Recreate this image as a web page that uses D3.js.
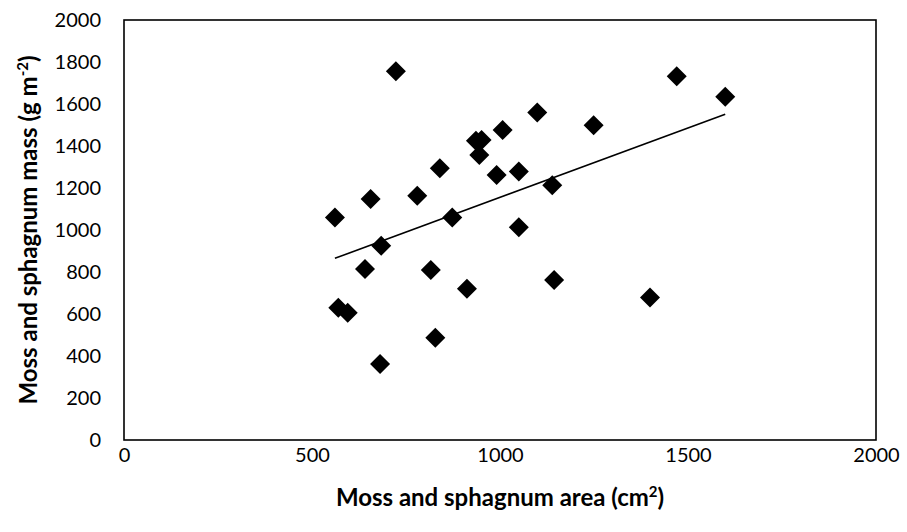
<!DOCTYPE html>
<html>
<head>
<meta charset="utf-8">
<script src="https://cdn.jsdelivr.net/npm/d3@7"></script>
<style>
  html, body { margin: 0; padding: 0; background: #fff; }
  svg { display: block; font-family: Lato, "Open Sans", "Liberation Sans", sans-serif; }
</style>
</head>
<body>
<svg id="chart" width="907" height="532"></svg>
<script>
// Moss and sphagnum area (cm²) per plot
const area = [561, 570, 595, 656, 641, 684, 681, 723, 780, 816, 828, 840, 873, 912,
              936, 951, 945, 991, 1007, 1050, 1050, 1099, 1139, 1144, 1249, 1399, 1470, 1599];
// Moss and sphagnum mass (g m⁻²) per plot
const mass = [1059, 630, 606, 1148, 814, 925, 362, 1756, 1163, 810, 487, 1294, 1059, 720,
              1425, 1429, 1357, 1262, 1476, 1278, 1013, 1559, 1213, 762, 1499, 678, 1732, 1635];
const xTicks = [0, 500, 1000, 1500, 2000];
const yTicks = [0, 200, 400, 600, 800, 1000, 1200, 1400, 1600, 1800, 2000];

const svg = d3.select("#chart");
const m = { left: 124, top: 20, right: 31, bottom: 92 };
const W = 907 - m.left - m.right, H = 532 - m.top - m.bottom;

const x = d3.scaleLinear().domain([0, 2000]).range([0, W]);
const y = d3.scaleLinear().domain([0, 2000]).range([H, 0]);

const g = svg.append("g").attr("transform", `translate(${m.left},${m.top})`);

// plot frame
g.append("rect").attr("x", 0).attr("y", 0).attr("width", W).attr("height", H)
  .attr("fill", "none").attr("stroke", "#000").attr("stroke-width", 1.6);

// axes (labels only, no tick marks)
const yAxis = g.append("g").call(d3.axisLeft(y).tickValues(yTicks).tickSize(0).tickPadding(23).tickFormat(d3.format("d")));
const xAxis = g.append("g").attr("transform", `translate(0,${H})`)
  .call(d3.axisBottom(x).tickValues(xTicks).tickSize(0).tickPadding(8).tickFormat(d3.format("d")));
[xAxis, yAxis].forEach(a => {
  a.select(".domain").remove();
  a.selectAll("text").attr("font-size", 20).attr("fill", "#000")
    .style("font-family", "Lato, 'Open Sans', sans-serif");
});

// least-squares trend line
const pts = area.map((a, i) => [a, mass[i]]);
const mx = d3.mean(area), my = d3.mean(mass);
const slope = d3.sum(pts, p => (p[0] - mx) * (p[1] - my)) / d3.sum(pts, p => (p[0] - mx) ** 2);
const icpt = my - slope * mx;
const [x0, x1] = d3.extent(area);
g.append("line")
  .attr("x1", x(x0)).attr("y1", y(icpt + slope * x0))
  .attr("x2", x(x1)).attr("y2", y(icpt + slope * x1))
  .attr("stroke", "#000").attr("stroke-width", 1.6);

// diamond markers
const r = 10;
g.selectAll("path.pt").data(pts).join("path")
  .attr("class", "pt")
  .attr("d", `M0,${-r}L${r},0L0,${r}L${-r},0Z`)
  .attr("transform", d => `translate(${x(d[0])},${y(d[1])})`)
  .attr("fill", "#000");

// axis titles
const xt = svg.append("text")
  .attr("x", m.left + W / 2).attr("y", 506)
  .attr("text-anchor", "middle").attr("font-size", 24).attr("font-weight", "bold");
xt.append("tspan").text("Moss and sphagnum area (cm");
xt.append("tspan").attr("font-size", 15).attr("dy", -9).text("2");
xt.append("tspan").attr("dy", 9).text(")");

const yt = svg.append("text")
  .attr("transform", `translate(37,${m.top + H / 2}) rotate(-90)`)
  .attr("text-anchor", "middle").attr("font-size", 24).attr("font-weight", "bold");
yt.append("tspan").text("Moss and sphagnum mass (g m");
yt.append("tspan").attr("font-size", 15).attr("dy", -9).text("-2");
yt.append("tspan").attr("dy", 9).text(")");
</script>
</body>
</html>
